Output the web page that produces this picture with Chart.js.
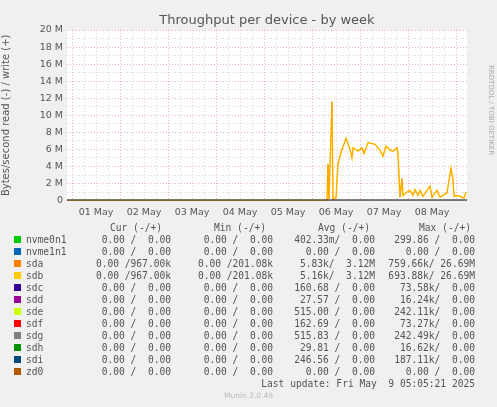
<!DOCTYPE html><html><head><meta charset="utf-8">
<script src="https://cdn.jsdelivr.net/npm/chart.js@4"></script>
<style>
body{margin:0;background:#f0f0f0;width:497px;height:407px;overflow:hidden;position:relative;font-family:"DejaVu Sans Mono",monospace;color:#555}
#c{position:absolute;left:0;top:0}
.t{position:absolute;font-size:9.6px;white-space:pre;line-height:12px}
.sw{position:absolute;width:7px;height:7px}
</style></head><body>
<canvas id="c" width="497" height="224"></canvas>
<div id="leg"></div>
<script>
const hours=[0,130,130.5,131,132.5,133,134.5,135.5,137.5,139.5,141.5,142.5,143,145.5,147.5,148.5,150.5,154,156.5,158,159.5,161.5,163,165,165.5,166.5,167.5,168,170,171.5,173,174,175.5,176.5,178,181.5,182.5,185,186.5,190,192,193,193.5,195.5,197.5,198.5,199.5];
const sdbWrite=[0,0,4.3,0.2,11.6,0.2,0.3,4.3,6.0,7.3,6.0,5.0,6.2,5.8,6.2,5.5,6.8,6.6,5.9,5.2,6.4,5.9,5.8,6.2,5.5,0.4,2.6,0.6,1.0,1.2,0.6,1.3,0.6,1.2,0.5,1.7,0.4,1.2,0.4,0.9,3.8,2.5,0.5,0.6,0.4,0.3,1.0];
const dayLabels=["01 May","02 May","03 May","04 May","05 May","06 May","07 May","08 May"];
const midnight0=2.5;
const names=["nvme0n1","nvme1n1","sda","sdb","sdc","sdd","sde","sdf","sdg","sdh","sdi","zd0"];
const colors=["#00cc00","#0066b3","#ff8000","#ffcc00","#330099","#990099","#ccff00","#ff0000","#808080","#008f00","#00487d","#b35a00"];
const cur=["0.00 /  0.00","0.00 /  0.00","0.00 /967.00k","0.00 /967.00k","0.00 /  0.00","0.00 /  0.00","0.00 /  0.00","0.00 /  0.00","0.00 /  0.00","0.00 /  0.00","0.00 /  0.00","0.00 /  0.00"];
const mins=["0.00 /  0.00","0.00 /  0.00","0.00 /201.08k","0.00 /201.08k","0.00 /  0.00","0.00 /  0.00","0.00 /  0.00","0.00 /  0.00","0.00 /  0.00","0.00 /  0.00","0.00 /  0.00","0.00 /  0.00"];
const avgs=["402.33m/  0.00","0.00 /  0.00","5.83k/  3.12M","5.16k/  3.12M","160.68 /  0.00","27.57 /  0.00","515.00 /  0.00","162.69 /  0.00","515.83 /  0.00","29.81 /  0.00","246.56 /  0.00","0.00 /  0.00"];
const maxs=["299.86 /  0.00","0.00 /  0.00","759.66k/ 26.69M","693.88k/ 26.69M","73.58k/  0.00","16.24k/  0.00","242.11k/  0.00","73.27k/  0.00","242.49k/  0.00","16.62k/  0.00","187.11k/  0.00","0.00 /  0.00"];

const pts=hours.map((h,i)=>({x:h,y:sdbWrite[i]}));
const zero=[{x:0,y:0},{x:200,y:0}];
const ds=[
 {data:zero,borderColor:'#000',borderWidth:2},
 {data:pts,borderColor:colors[2],borderWidth:0.5},
 {data:pts,borderColor:colors[3],borderWidth:1.5}
].map(d=>Object.assign(d,{pointRadius:0,tension:0,fill:false}));

const ticksX=[];for(let h=midnight0;h<=200;h+=6)ticksX.push(h);
new Chart(document.getElementById('c'),{type:'line',data:{datasets:ds},
options:{responsive:false,animation:false,events:[],
layout:{padding:{left:0,right:30,top:30,bottom:0}},
plugins:{legend:{display:false},tooltip:{enabled:false},title:{display:false}},
scales:{
 x:{type:'linear',min:0,max:200,
  afterBuildTicks:s=>{s.ticks=ticksX.map(v=>({value:v}));},
  grid:{color:c=>{const v=c.tick?c.tick.value:0;return Math.abs(((v-midnight0)%24))<0.01?'rgba(230,130,130,0.6)':'rgba(190,190,190,0.6)';},drawTicks:false},
  border:{display:false,dash:[1,2]},
  ticks:{maxRotation:0,autoSkip:false,color:'#555',font:{family:'DejaVu Sans',size:9.5},padding:6,
   callback:(v)=>{const k=(v-midnight0)/24;const d=Math.round(k-0.5);return (Math.abs(k-d-0.5)<0.01&&d>=0&&d<8)?dayLabels[d]:'';}}},
 y:{min:0,max:20,afterBuildTicks:s=>{const t=[];for(let v=0;v<=20;v+=1)t.push({value:v});s.ticks=t;},
  afterFit:s=>{s.width=67;},
  grid:{color:c=>c.tick&&c.tick.value%2===0?'rgba(230,130,130,0.6)':'rgba(190,190,190,0.6)',drawTicks:false},
  border:{display:false,dash:[1,2]},
  title:{display:true,text:'Bytes/second read (-) / write (+)',color:'#555',font:{family:'DejaVu Sans',size:10},padding:0},
  ticks:{color:'#555',font:{family:'DejaVu Sans',size:9.5},padding:4,autoSkip:false,
   callback:v=>v%2?'':(v===0?'0':v+' M')}}}},
plugins:[{id:'bg',beforeDraw:ch=>{const a=ch.chartArea,x=ch.ctx;x.save();x.fillStyle='#fff';x.fillRect(a.left,a.top,a.right-a.left,a.bottom-a.top);x.restore();},
 afterDraw:ch=>{const x=ch.ctx;x.save();x.fillStyle='#555';x.font='13px "DejaVu Sans"';x.textAlign='center';x.fillText('Throughput per device - by week',267,24);
 x.translate(489,110);x.rotate(Math.PI/2);x.font='7px "DejaVu Sans"';x.fillStyle='#aaa';x.fillText('RRDTOOL / TOBI OETIKER',0,0);x.restore();}}]});

const L=document.getElementById('leg');let h='';
function cell(txt,right,y){h+=`<div class="t" style="right:${497-right}px;top:${y-6}px">${txt}</div>`;}
function cellC(txt,cx,y){h+=`<div class="t" style="left:${cx-60}px;width:120px;text-align:center;top:${y-6}px">${txt}</div>`;}
cellC('Cur (-/+)',136,228);cellC('Min (-/+)',240,228);cellC('Avg (-/+)',344,228);cellC('Max (-/+)',445,228);
names.forEach((n,i)=>{const y=240+i*12;
 h+=`<div class="sw" style="left:14px;top:${y-4}px;background:${colors[i]}"></div>`;
 h+=`<div class="t" style="left:26px;top:${y-6}px">${n}</div>`;
 cell(cur[i],171,y);cell(mins[i],273,y);cell(avgs[i],375,y);cell(maxs[i],475,y);});
cell('Last update: Fri May  9 05:05:21 2025',475,384);
h+=`<div class="t" style="left:0;width:497px;text-align:center;top:390px;font-family:'DejaVu Sans';font-size:7.5px;color:#bbb">Munin 2.0.49</div>`;
L.innerHTML=h;
</script></body></html>
